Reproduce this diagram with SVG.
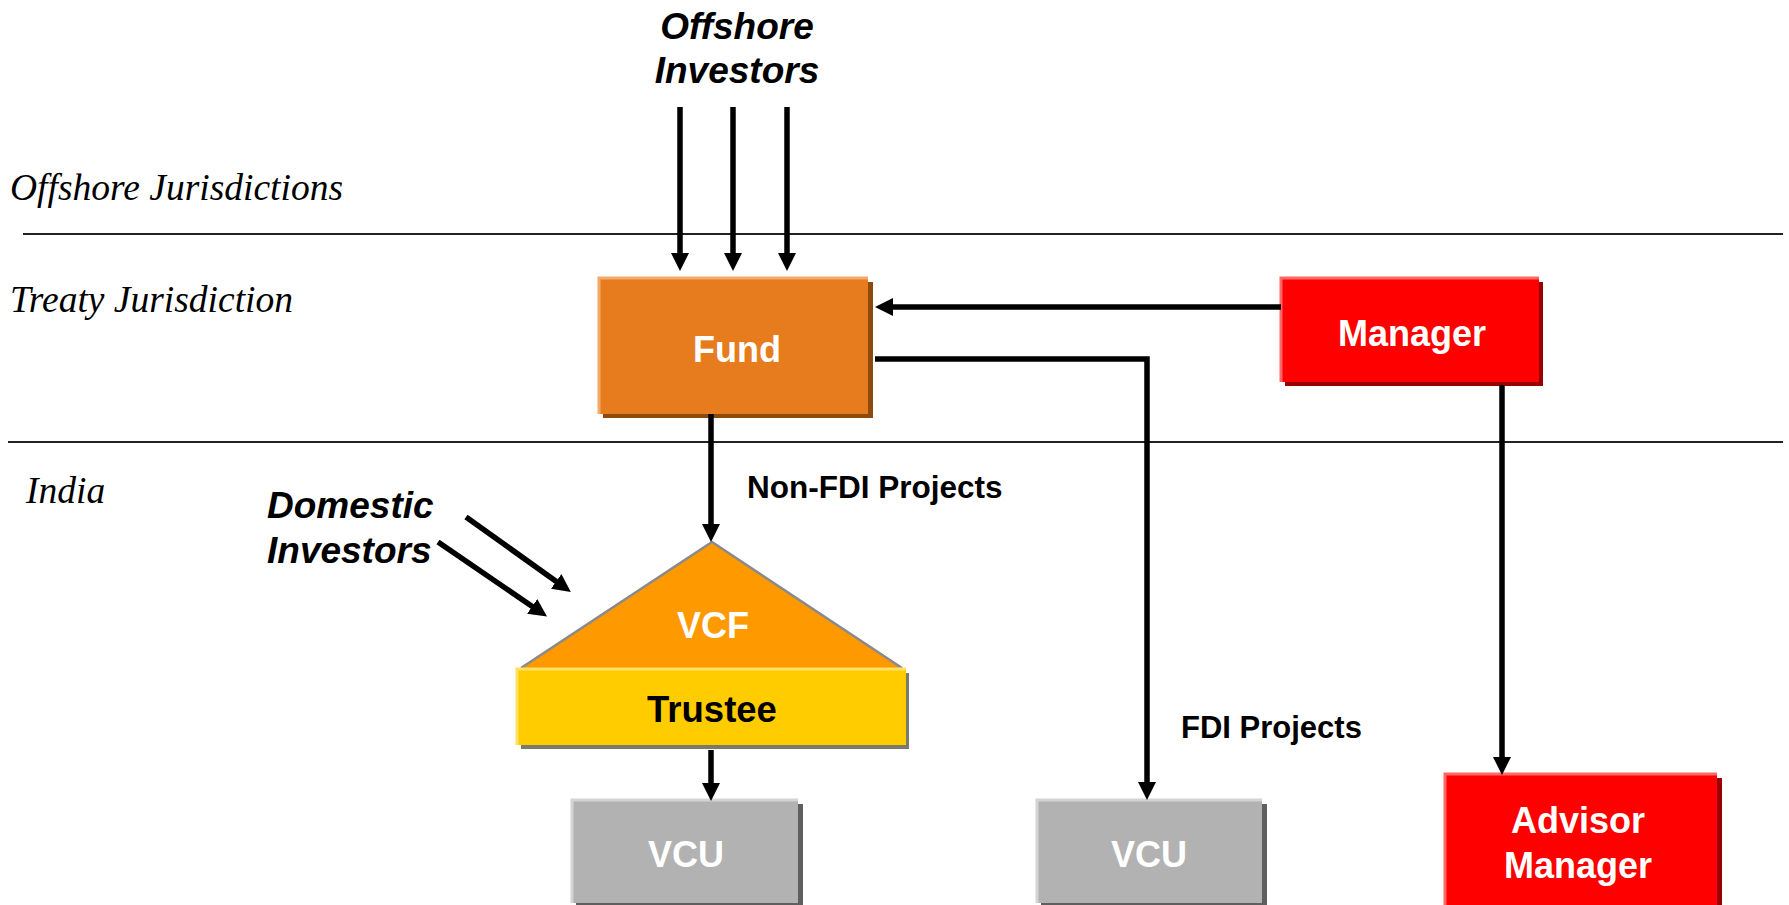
<svg xmlns="http://www.w3.org/2000/svg" width="1789" height="905" viewBox="0 0 1789 905">
<style>
.bg{fill:#ffffff}
.sep{stroke:#222;stroke-width:2;fill:none}
.zone{font-family:"Liberation Serif","Times New Roman",serif;font-style:italic;font-size:37.5px;fill:#000}
.lbl{font-family:"Liberation Sans",Arial,sans-serif;font-weight:bold;fill:#000}
.inv{font-style:italic;font-size:37px}
.proj{font-size:31.5px}
.ntext{font-family:"Liberation Sans",Arial,sans-serif;font-weight:bold;font-size:36px;text-anchor:middle}
.w{fill:#ffffff}
.k{fill:#000000}
.conn{stroke:#000;stroke-width:5.5;fill:none;marker-end:url(#ah)}
</style>
<defs>
<marker id="ah" markerUnits="userSpaceOnUse" markerWidth="18" markerHeight="18" refX="1" refY="9" orient="auto">
<path d="M0,0 L18,9 L0,18 z" fill="#000"/>
</marker>
</defs>
<rect class="bg" x="0" y="0" width="1789" height="905"/>

<g id="zones">
<line class="sep" x1="23" y1="234" x2="1783" y2="234"/>
<line class="sep" x1="8" y1="442" x2="1783" y2="442"/>
<text class="zone" x="10" y="200">Offshore Jurisdictions</text>
<text class="zone" x="10" y="312">Treaty Jurisdiction</text>
<text class="zone" x="26" y="503">India</text>
</g>

<g id="offshore-investors">
<text class="lbl inv" x="737" y="39" text-anchor="middle">Offshore</text>
<text class="lbl inv" x="737" y="83" text-anchor="middle">Investors</text>
</g>

<g id="domestic-investors">
<text class="lbl inv" x="267" y="518">Domestic</text>
<text class="lbl inv" x="267" y="563">Investors</text>
</g>

<g id="fund">
<rect x="603" y="282" width="270" height="136" fill="#8C4A0C"/>
<rect x="599" y="278" width="269" height="136" fill="#E67C1E"/>
<path d="M599,414 V278 H868" stroke="#F2AA6A" stroke-width="3" fill="none"/>
<text class="ntext w" x="737" y="362">Fund</text>
</g>

<g id="manager">
<rect x="1285" y="282" width="258" height="104" fill="#990000"/>
<rect x="1281" y="278" width="258" height="104" fill="#FF0000"/>
<path d="M1281,382 V278 H1539" stroke="#FF6666" stroke-width="3" fill="none"/>
<text class="ntext w" x="1412" y="346">Manager</text>
</g>

<g id="vcf">
<path d="M712,542 L902,668 L521,668 Z" fill="#FF9900"/>
<path d="M521,668 L712,542 L902,668" stroke="#8A8A8A" stroke-width="2.5" fill="none"/>
<text class="ntext w" x="713" y="638">VCF</text>
</g>

<g id="trustee">
<rect x="521" y="673" width="388" height="76" fill="#7A7A6A"/>
<rect x="517" y="669" width="389" height="76" fill="#FFCC00"/>
<path d="M517,745 V669 H906" stroke="#FFE066" stroke-width="3" fill="none"/>
<text class="ntext k" x="712" y="722" style="font-size:36.5px">Trustee</text>
</g>

<g id="vcu1">
<rect x="576" y="804" width="227" height="103" fill="#5F5F5F"/>
<rect x="572" y="800" width="226" height="103" fill="#B2B2B2"/>
<path d="M572,903 V800 H798" stroke="#D4D4D4" stroke-width="3" fill="none"/>
<text class="ntext w" x="686" y="867">VCU</text>
</g>

<g id="vcu2">
<rect x="1041" y="804" width="226" height="103" fill="#5F5F5F"/>
<rect x="1037" y="800" width="225" height="103" fill="#B2B2B2"/>
<path d="M1037,903 V800 H1262" stroke="#D4D4D4" stroke-width="3" fill="none"/>
<text class="ntext w" x="1149" y="867">VCU</text>
</g>

<g id="advisor-manager">
<rect x="1449" y="778" width="273" height="140" fill="#990000"/>
<rect x="1445" y="774" width="272" height="140" fill="#FF0000"/>
<path d="M1445,905 V774 H1717" stroke="#FF6666" stroke-width="3" fill="none"/>
<text class="ntext w" x="1578" y="833">Advisor</text>
<text class="ntext w" x="1578" y="878">Manager</text>
</g>

<g id="connectors">
<line class="conn" x1="680" y1="107" x2="680" y2="254"/>
<line class="conn" x1="733" y1="107" x2="733" y2="254"/>
<line class="conn" x1="787" y1="107" x2="787" y2="254"/>
<line class="conn" x1="1281" y1="307" x2="892" y2="307"/>
<polyline class="conn" points="875,359 1147,359 1147,783"/>
<line class="conn" x1="711" y1="414" x2="711" y2="525"/>
<line class="conn" x1="711" y1="750" x2="711" y2="784"/>
<line class="conn" x1="1502" y1="385" x2="1502" y2="758"/>
<line class="conn" x1="466" y1="517" x2="557" y2="582"/>
<line class="conn" x1="438" y1="542" x2="533" y2="607"/>
<text class="lbl proj" x="747" y="498">Non-FDI Projects</text>
<text class="lbl" x="1181" y="738" style="font-size:31px">FDI Projects</text>
</g>
</svg>
